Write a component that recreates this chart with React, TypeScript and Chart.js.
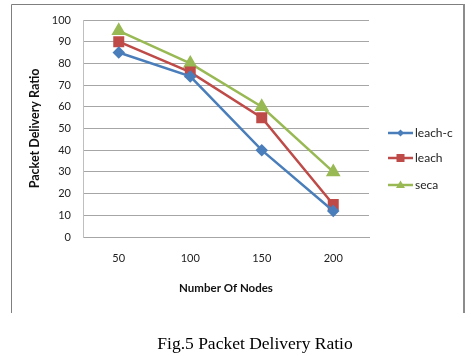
import React, { useEffect, useRef } from "react";
import { Chart, registerables } from "chart.js";

Chart.register(...registerables);

const categories = ["50", "100", "150", "200"];
const leachC = [85, 74, 40, 12];
const leach = [90, 76, 55, 15];
const seca = [95, 80, 60, 30];
const seriesNames = ["leach-c", "leach", "seca"];
const yTitle = "Packet Delivery Ratio";
const xTitle = "Number Of Nodes";
const caption = "Fig.5 Packet Delivery Ratio";

const BLUE = "#4a7ebb";
const RED = "#be4b48";
const GREEN = "#98b954";
const FONT = "Lato";

const framePlugin = {
  id: "frame",
  beforeDraw(chart: any) {
    const ctx = chart.ctx;
    ctx.save();
    ctx.strokeStyle = "#7f7f7f";
    ctx.lineWidth = 1;
    ctx.beginPath();
    ctx.moveTo(11.5, 313);
    ctx.lineTo(11.5, 4.5);
    ctx.lineTo(463, 4.5);
    ctx.stroke();
    ctx.lineWidth = 2;
    ctx.strokeStyle = "#8c8c8c";
    ctx.beginPath();
    ctx.moveTo(464, 4);
    ctx.lineTo(464, 313);
    ctx.stroke();
    ctx.restore();
  },
};

const legendPlugin = {
  id: "sideLegend",
  afterDraw(chart: any) {
    const ctx = chart.ctx;
    const ys = [133, 158, 185];
    ctx.save();
    chart.data.datasets.forEach((ds: any, i: number) => {
      const y = ys[i];
      ctx.strokeStyle = ds.borderColor;
      ctx.lineWidth = 2.5;
      ctx.beginPath();
      ctx.moveTo(388, y);
      ctx.lineTo(413, y);
      ctx.stroke();
      ctx.fillStyle = ds.borderColor;
      const cx = 400.5;
      ctx.beginPath();
      if (ds.pointStyle === "rectRot") {
        const r = 3.5;
        ctx.moveTo(cx, y - r);
        ctx.lineTo(cx + r, y);
        ctx.lineTo(cx, y + r);
        ctx.lineTo(cx - r, y);
        ctx.closePath();
      } else if (ds.pointStyle === "rect") {
        ctx.rect(cx - 4, y - 4, 8, 8);
      } else {
        ctx.moveTo(cx, y - 4.5);
        ctx.lineTo(cx + 4.5, y + 3);
        ctx.lineTo(cx - 4.5, y + 3);
        ctx.closePath();
      }
      ctx.fill();
      ctx.fillStyle = "#222";
      ctx.font = `12px ${FONT}`;
      ctx.textBaseline = "middle";
      ctx.textAlign = "left";
      ctx.fillText(ds.label, 415, y);
    });
    ctx.restore();
  },
};

export default function App() {
  const ref = useRef<HTMLCanvasElement>(null);
  useEffect(() => {
    if (!ref.current) return;
    const chart = new Chart(ref.current, {
      type: "line",
      data: {
        labels: categories,
        datasets: [
          {
            label: seriesNames[0],
            data: leachC,
            borderColor: BLUE,
            backgroundColor: BLUE,
            pointStyle: "rectRot",
            pointRadius: 4.5,
            borderWidth: 2.5,
          },
          {
            label: seriesNames[1],
            data: leach,
            borderColor: RED,
            backgroundColor: RED,
            pointStyle: "rect",
            pointRadius: 6,
            borderWidth: 2.5,
          },
          {
            label: seriesNames[2],
            data: seca,
            borderColor: GREEN,
            backgroundColor: GREEN,
            pointStyle: "triangle",
            pointRadius: 6,
            borderWidth: 2.5,
          },
        ],
      },
      options: {
        responsive: false,
        animation: false,
        layout: { padding: { top: 20, right: 103, left: 0, bottom: 0 } },
        plugins: { legend: { display: false }, tooltip: { enabled: false } },
        scales: {
          x: {
            offset: true,
            grid: { display: false, drawTicks: false },
            border: { display: true, color: "#a6a6a6" },
            ticks: { padding: 15, color: "#222", font: { family: FONT, size: 11 } },
            title: {
              display: true,
              text: xTitle,
              color: "#111",
              font: { family: FONT, size: 11.5, weight: "bold" },
              padding: { top: 0, bottom: 61 },
            },
            afterFit: (s: any) => {
              s.height = 119;
            },
          },
          y: {
            min: 0,
            max: 100,
            ticks: { stepSize: 10, padding: 12, color: "#222", font: { family: FONT, size: 11 } },
            grid: { color: "#a6a6a6", drawTicks: false },
            border: { display: true, color: "#bfbfbf" },
            title: {
              display: true,
              text: yTitle,
              color: "#111",
              font: { family: FONT, size: 12.5, weight: "bold" },
              padding: { top: 27, bottom: 0 },
            },
            afterFit: (s: any) => {
              s.width = 83;
            },
          },
        },
      },
      plugins: [framePlugin, legendPlugin],
    });
    return () => chart.destroy();
  }, []);
  return (
    <div style={{ position: "absolute", left: 0, top: 0, width: 472, height: 356, background: "#fff" }}>
      <canvas ref={ref} width={472} height={356} style={{ position: "absolute", left: 0, top: 0 }} />
      <div
        style={{
          position: "absolute",
          left: 0,
          width: 472,
          top: 332,
          textAlign: "center",
          fontFamily: "'Liberation Serif', serif",
          fontSize: 17.5,
          paddingLeft: 38,
          boxSizing: "border-box",
          lineHeight: "22px",
          color: "#000",
        }}
      >
        {caption}
      </div>
    </div>
  );
}
